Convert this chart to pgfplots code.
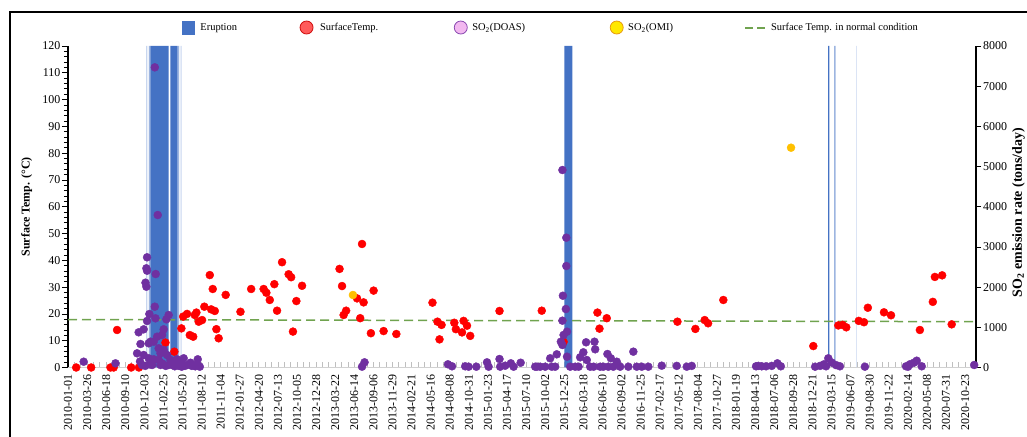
\documentclass[border=0pt]{standalone}
\usepackage{fontspec}
\setmainfont{Liberation Serif}
\usepackage{pgfplots}
\usepackage{pgfplotstable}
\pgfplotsset{compat=1.18}

\definecolor{eruption}{HTML}{4472C4}
\definecolor{eruptionlight}{HTML}{9DB5E0}
\definecolor{eruptionpale}{HTML}{C8D6EF}
\definecolor{tempred}{HTML}{FF0000}
\definecolor{doas}{HTML}{7030A0}
\definecolor{omi}{HTML}{FFC000}
\definecolor{normalgreen}{HTML}{70A34F}
\definecolor{legtempfill}{HTML}{FF5A5A}
\definecolor{legtempdraw}{HTML}{D01010}
\definecolor{legdoasfill}{HTML}{F2B8F0}
\definecolor{legdoasdraw}{HTML}{8848B0}
\definecolor{legomifill}{HTML}{FFE800}
\definecolor{legomidraw}{HTML}{E89A10}

% x values are days counted from 2010-01-01
% surface temperature (degC)
\pgfplotstableread{
day T
36 0
102 0
187 0
201 0
216 14.0
278 0
312 0
429 9.3
468 5.9
499 14.6
507 19.0
524 20.0
536 12.1
551 11.5
558 19.6
565 20.5
575 17.1
590 17.7
600 22.7
624 34.5
630 21.7
637 29.3
646 21.1
653 14.3
663 10.9
694 27.1
759 20.8
806 29.3
861 29.3
873 27.9
888 25.2
908 31.1
920 21.2
942 39.3
971 34.8
982 33.7
990 13.4
1005 24.8
1030 30.5
1195 36.8
1206 30.4
1213 19.6
1224 21.2
1272 25.8
1286 18.4
1294 46.1
1301 24.3
1333 12.8
1345 28.7
1389 13.6
1445 12.5
1604 24.2
1626 17.1
1635 10.5
1644 15.9
1700 16.7
1707 14.3
1734 13.1
1741 17.4
1756 15.6
1770 11.8
1899 21.1
2085 21.2
2181 9.6
2330 20.5
2339 14.5
2371 18.4
2682 17.1
2761 14.4
2802 17.7
2817 16.5
2884 25.2
3280 8.0
3390 15.7
3409 15.9
3425 15.0
3480 17.4
3503 16.9
3520 22.3
3591 20.6
3622 19.5
3749 14.0
3806 24.5
3815 33.8
3847 34.4
3889 16.1
}\temptable

% SO2 emission rate from DOAS (tons/day)
\pgfplotstableread{
day so2
69 144
209 104
304 353
311 876
317 150
319 585
326 60
333 950
333 311
340 40
341 2110
345 2468
345 2010
348 2742
348 2408
348 1157
355 602
355 229
358 1331
360 80
363 642
370 62
377 642
377 204
382 7469
382 1513
385 1224
386 2326
392 766
395 3794
399 478
399 187
407 353
407 62
414 809
415 100
421 950
421 435
430 40
433 1199
436 311
443 1306
443 62
451 187
460 60
470 30
480 204
488 40
495 87
500 20
509 229
515 40
524 62
539 119
545 40
553 62
560 30
571 204
571 62
580 20
1294 20
1305 129
1672 80
1690 30
1748 30
1763 20
1797 20
1844 129
1851 20
1899 211
1902 20
1924 45
1949 104
1961 20
1992 119
2056 20
2064 20
2078 20
2100 20
2122 229
2129 20
2144 20
2151 328
2169 642
2176 4914
2176 1165
2176 560
2178 1786
2181 809
2191 1455
2193 3230
2193 2525
2196 891
2196 269
2210 20
2232 20
2247 20
2254 254
2268 378
2280 627
2283 187
2298 20
2313 20
2317 642
2320 453
2342 20
2356 20
2374 336
2378 20
2389 229
2400 20
2415 144
2430 20
2466 20
2488 394
2503 20
2525 20
2554 20
2613 45
2679 40
2723 20
2745 40
3028 30
3038 40
3053 30
3072 30
3097 40
3122 104
3137 30
3288 20
3310 40
3327 80
3336 30
3346 229
3362 120
3380 60
3397 30
3507 20
3688 30
3697 20
3705 80
3723 120
3735 169
3757 30
3988 62
}\doastable

% SO2 emission rate from OMI (tons/day)
\pgfplotstableread{
day so2
1254 1804
3182 5469
}\omitable

\pgfplotsset{
  panel/.style={
    at={(68bp,69.5bp)}, anchor=south west,
    scale only axis, width=908bp, height=321.5bp,
    xmin=0, xmax=3996,
    clip=false,
  },
  ticktext/.style={font=\fontsize{12}{14}\selectfont},
}

\begin{document}
\begin{tikzpicture}
\useasboundingbox (0,0) rectangle (1027bp,437bp);
% frame around the figure
\draw[line width=2.6bp] (10bp,-30bp) -- (10bp,425bp) -- (1060bp,425bp);

% date axis
\begin{axis}[
  panel, ymin=0, ymax=120,
  axis x line*=bottom, axis y line=none,
  axis line style={draw=black!18, line width=1.2bp},
  xtick={0,84,...,3948},
  xticklabels={2010-01-01,2010-03-26,2010-06-18,2010-09-10,2010-12-03,2011-02-25,2011-05-20,2011-08-12,2011-11-04,2012-01-27,2012-04-20,2012-07-13,2012-10-05,2012-12-28,2013-03-22,2013-06-14,2013-09-06,2013-11-29,2014-02-21,2014-05-16,2014-08-08,2014-10-31,2015-01-23,2015-04-17,2015-07-10,2015-10-02,2015-12-25,2016-03-18,2016-06-10,2016-09-02,2016-11-25,2017-02-17,2017-05-12,2017-08-04,2017-10-27,2018-01-19,2018-04-13,2018-07-06,2018-09-28,2018-12-21,2019-03-15,2019-06-07,2019-08-30,2019-11-22,2020-02-14,2020-05-08,2020-07-31,2020-10-23},
  minor x tick num=2,
  tick align=inside,
  major tick length=5bp, minor tick length=5bp,
  tick style={draw=black!25, line width=0.8bp},
  xticklabel style={ticktext, rotate=90, anchor=east, inner sep=1bp, xshift=-6bp},
]
\end{axis}

% temperature axis
\begin{axis}[
  panel, ymin=0, ymax=120,
  axis x line=none, axis y line*=left,
  axis line style={line width=1.1bp},
  ytick={0,10,...,120}, minor y tick num=4,
  tick align=outside,
  major tick length=6bp, minor tick length=4bp,
  tick style={black, line width=0.8bp},
  yticklabel style={ticktext, inner sep=1.5bp},
  /pgf/number format/assume math mode=true,
  ylabel={\bfseries Surface Temp. (°C)},
  ylabel style={at={(axis description cs:-0.0455,0.5)}, anchor=center, font=\fontsize{12}{14}\selectfont},
  legend columns=5,
  legend cell align=left,
  legend style={at={(axis description cs:0.1221,1.0575)}, anchor=west, draw=none, fill=none,
    font=\fontsize{10.5}{12}\selectfont,
    /tikz/column 1/.style={column sep=4bp},
    /tikz/column 2/.style={column sep=61bp},
    /tikz/column 3/.style={column sep=5bp},
    /tikz/column 4/.style={column sep=74bp},
    /tikz/column 5/.style={column sep=3bp},
    /tikz/column 6/.style={column sep=83bp},
    /tikz/column 7/.style={column sep=3bp},
    /tikz/column 8/.style={column sep=69bp},
    /tikz/column 9/.style={column sep=3bp}},
]
\addlegendimage{only marks, mark=square*, mark size=6.2bp, color=eruption}
\addlegendimage{only marks, mark=*, mark size=6.5bp, draw=legtempdraw, fill=legtempfill, line width=0.8bp}
\addlegendimage{only marks, mark=*, mark size=6.5bp, draw=legdoasdraw, fill=legdoasfill, line width=0.8bp}
\addlegendimage{only marks, mark=*, mark size=6.5bp, draw=legomidraw, fill=legomifill, line width=0.8bp}
\addlegendimage{legend image code/.code={\draw[normalgreen, dash pattern=on 8bp off 4bp, line width=2bp] (0bp,0bp) -- (20bp,0bp);}}
\legend{Eruption, SurfaceTemp., SO\textsubscript{2}(DOAS), SO\textsubscript{2}(OMI), Surface Temp. in normal condition}

% eruption periods
\addplot[fill=eruptionpale, draw=none] coordinates {(344,0) (344,120) (347,120) (347,0)} \closedcycle;
\addplot[fill=eruptionpale, draw=none] coordinates {(350,0) (350,120) (353,120) (353,0)} \closedcycle;
\addplot[fill=eruptionlight, draw=none] coordinates {(356,0) (356,120) (362,120) (362,0)} \closedcycle;
\addplot[fill=eruption, draw=none] coordinates {(362,0) (362,120) (443,120) (443,0)} \closedcycle;
\addplot[fill=eruption, draw=none] coordinates {(451,0) (451,120) (482,120) (482,0)} \closedcycle;
\addplot[fill=eruptionlight, draw=none] coordinates {(485,0) (485,120) (488,120) (488,0)} \closedcycle;
\addplot[fill=eruptionpale, draw=none] coordinates {(491,0) (491,120) (494,120) (494,0)} \closedcycle;
\addplot[fill=eruptionpale, draw=none] coordinates {(497,0) (497,120) (500,120) (500,0)} \closedcycle;
\addplot[fill=eruption, draw=none] coordinates {(2184,0) (2184,120) (2220,120) (2220,0)} \closedcycle;
\addplot[fill=eruption, draw=none] coordinates {(3345,0) (3345,120) (3351,120) (3351,0)} \closedcycle;
\addplot[fill=eruptionlight, draw=none] coordinates {(3372,0) (3372,120) (3378,120) (3378,0)} \closedcycle;
\addplot[fill=eruptionpale, draw=none] coordinates {(3469,0) (3469,120) (3472,120) (3472,0)} \closedcycle;

% normal-condition surface temperature
\addplot[normalgreen, dash pattern=on 9bp off 5bp, line width=1.5bp] coordinates {(0,17.9) (3996,17.1)};

% surface temperature
\addplot[only marks, mark=*, mark size=4bp, draw=tempred, fill=tempred] table[x=day, y=T] {\temptable};
\end{axis}

% SO2 axis
\begin{axis}[
  panel, ymin=0, ymax=8000,
  axis x line=none, axis y line*=right,
  axis line style={line width=1.1bp},
  ytick={0,1000,...,8000}, minor y tick num=0,
  tick align=outside,
  major tick length=5bp,
  tick style={black, line width=0.8bp},
  yticklabel style={ticktext, inner sep=2bp},
  /pgf/number format/assume math mode=true,
  /pgf/number format/1000 sep={},
  ylabel={\bfseries SO\textsubscript{2} emission rate (tons/day)},
  ylabel style={at={(axis description cs:1.0396,0.482)}, anchor=north, inner sep=0pt, font=\fontsize{14}{16}\selectfont},
]
\addplot[only marks, mark=*, mark size=4bp, draw=omi, fill=omi] table[x=day, y=so2] {\omitable};
\addplot[only marks, mark=*, mark size=4bp, draw=doas, fill=doas] table[x=day, y=so2] {\doastable};
\end{axis}
\end{tikzpicture}
\end{document}
